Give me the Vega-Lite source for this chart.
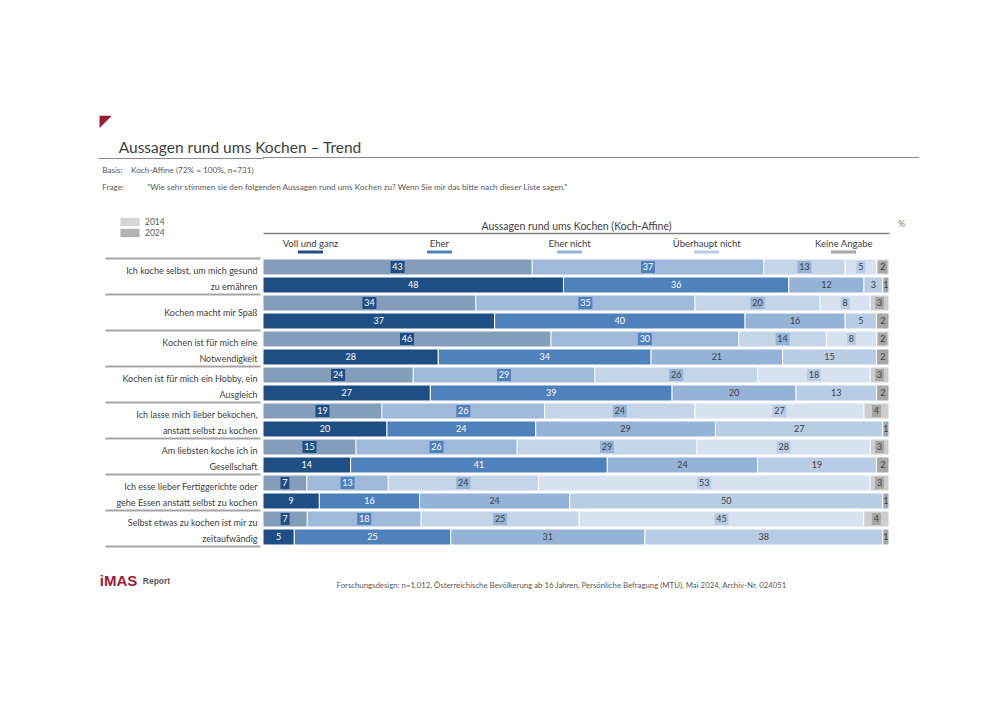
{
  "$schema": "https://vega.github.io/schema/vega-lite/v6.json",
  "padding": {"left": 97, "top": 112, "right": 5, "bottom": 5},
  "background": "white",
  "columns": 1,
  "spacing": 6,
  "config": {"view": {"stroke": null}, "font": "Lato"},
  "resolve": {"legend": {"opacity": "independent"}},
  "concat": [
    {
      "width": 656,
      "height": 1,
      "view": {"fill": "#8c8c8c", "stroke": null},
      "data": {"values": [{}]},
      "mark": {"type": "rule", "opacity": 0},
      "encoding": {
        "y": {
          "datum": 0.5,
          "type": "quantitative",
          "scale": {"domain": [0, 1]},
          "axis": {
            "values": [0.5],
            "domain": false,
            "grid": false,
            "labels": false,
            "ticks": true,
            "tickSize": 165,
            "tickWidth": 1.2,
            "tickColor": "#8c8c8c",
            "title": null
          }
        }
      },
      "title": {
        "text": "◤",
        "font": "DejaVu Sans",
        "color": "#9b1c31",
        "fontSize": 16,
        "anchor": "start",
        "frame": "bounds",
        "dx": 2,
        "subtitle": "\u200b\u00a0\u00a0\u00a0\u00a0\u00a0Aussagen rund ums Kochen – Trend",
        "subtitleFont": "Lato",
        "subtitleFontSize": 15.5,
        "subtitleColor": "#404040",
        "subtitlePadding": 12,
        "offset": 1
      }
    },
    {
      "width": 626,
      "height": 288,
      "title": {
        "text": [
          "Basis:\u00a0\u00a0\u00a0\u00a0Koch-Affine (72% = 100%, n=731)",
          "Frage:\u00a0\u00a0\u00a0\u00a0\u00a0\u00a0\u00a0\u00a0\u00a0\u00a0\u00a0\"Wie sehr stimmen sie den folgenden Aussagen rund ums Kochen zu? Wenn Sie mir das bitte nach dieser Liste sagen.\""
        ],
        "anchor": "start",
        "frame": "bounds",
        "font": "Lato",
        "fontSize": 8.2,
        "fontWeight": "normal",
        "color": "#595959",
        "lineHeight": 17,
        "offset": 24,
        "dx": 3
      },
      "data": {
        "values": [
          {"s": "Ich koche selbst, um mich gesund|zu ernähren", "yr": "2014", "c": "Voll und ganz", "k": 1, "v": 43},
          {"s": "Ich koche selbst, um mich gesund|zu ernähren", "yr": "2014", "c": "Eher", "k": 2, "v": 37},
          {"s": "Ich koche selbst, um mich gesund|zu ernähren", "yr": "2014", "c": "Eher nicht", "k": 3, "v": 13},
          {"s": "Ich koche selbst, um mich gesund|zu ernähren", "yr": "2014", "c": "Überhaupt nicht", "k": 4, "v": 5},
          {"s": "Ich koche selbst, um mich gesund|zu ernähren", "yr": "2014", "c": "Keine Angabe", "k": 5, "v": 2},
          {"s": "Ich koche selbst, um mich gesund|zu ernähren", "yr": "2024", "c": "Voll und ganz", "k": 1, "v": 48},
          {"s": "Ich koche selbst, um mich gesund|zu ernähren", "yr": "2024", "c": "Eher", "k": 2, "v": 36},
          {"s": "Ich koche selbst, um mich gesund|zu ernähren", "yr": "2024", "c": "Eher nicht", "k": 3, "v": 12},
          {"s": "Ich koche selbst, um mich gesund|zu ernähren", "yr": "2024", "c": "Überhaupt nicht", "k": 4, "v": 3},
          {"s": "Ich koche selbst, um mich gesund|zu ernähren", "yr": "2024", "c": "Keine Angabe", "k": 5, "v": 1},
          {"s": "Kochen macht mir Spaß", "yr": "2014", "c": "Voll und ganz", "k": 1, "v": 34},
          {"s": "Kochen macht mir Spaß", "yr": "2014", "c": "Eher", "k": 2, "v": 35},
          {"s": "Kochen macht mir Spaß", "yr": "2014", "c": "Eher nicht", "k": 3, "v": 20},
          {"s": "Kochen macht mir Spaß", "yr": "2014", "c": "Überhaupt nicht", "k": 4, "v": 8},
          {"s": "Kochen macht mir Spaß", "yr": "2014", "c": "Keine Angabe", "k": 5, "v": 3},
          {"s": "Kochen macht mir Spaß", "yr": "2024", "c": "Voll und ganz", "k": 1, "v": 37},
          {"s": "Kochen macht mir Spaß", "yr": "2024", "c": "Eher", "k": 2, "v": 40},
          {"s": "Kochen macht mir Spaß", "yr": "2024", "c": "Eher nicht", "k": 3, "v": 16},
          {"s": "Kochen macht mir Spaß", "yr": "2024", "c": "Überhaupt nicht", "k": 4, "v": 5},
          {"s": "Kochen macht mir Spaß", "yr": "2024", "c": "Keine Angabe", "k": 5, "v": 2},
          {"s": "Kochen ist für mich eine|Notwendigkeit", "yr": "2014", "c": "Voll und ganz", "k": 1, "v": 46},
          {"s": "Kochen ist für mich eine|Notwendigkeit", "yr": "2014", "c": "Eher", "k": 2, "v": 30},
          {"s": "Kochen ist für mich eine|Notwendigkeit", "yr": "2014", "c": "Eher nicht", "k": 3, "v": 14},
          {"s": "Kochen ist für mich eine|Notwendigkeit", "yr": "2014", "c": "Überhaupt nicht", "k": 4, "v": 8},
          {"s": "Kochen ist für mich eine|Notwendigkeit", "yr": "2014", "c": "Keine Angabe", "k": 5, "v": 2},
          {"s": "Kochen ist für mich eine|Notwendigkeit", "yr": "2024", "c": "Voll und ganz", "k": 1, "v": 28},
          {"s": "Kochen ist für mich eine|Notwendigkeit", "yr": "2024", "c": "Eher", "k": 2, "v": 34},
          {"s": "Kochen ist für mich eine|Notwendigkeit", "yr": "2024", "c": "Eher nicht", "k": 3, "v": 21},
          {"s": "Kochen ist für mich eine|Notwendigkeit", "yr": "2024", "c": "Überhaupt nicht", "k": 4, "v": 15},
          {"s": "Kochen ist für mich eine|Notwendigkeit", "yr": "2024", "c": "Keine Angabe", "k": 5, "v": 2},
          {"s": "Kochen ist für mich ein Hobby, ein|Ausgleich", "yr": "2014", "c": "Voll und ganz", "k": 1, "v": 24},
          {"s": "Kochen ist für mich ein Hobby, ein|Ausgleich", "yr": "2014", "c": "Eher", "k": 2, "v": 29},
          {"s": "Kochen ist für mich ein Hobby, ein|Ausgleich", "yr": "2014", "c": "Eher nicht", "k": 3, "v": 26},
          {"s": "Kochen ist für mich ein Hobby, ein|Ausgleich", "yr": "2014", "c": "Überhaupt nicht", "k": 4, "v": 18},
          {"s": "Kochen ist für mich ein Hobby, ein|Ausgleich", "yr": "2014", "c": "Keine Angabe", "k": 5, "v": 3},
          {"s": "Kochen ist für mich ein Hobby, ein|Ausgleich", "yr": "2024", "c": "Voll und ganz", "k": 1, "v": 27},
          {"s": "Kochen ist für mich ein Hobby, ein|Ausgleich", "yr": "2024", "c": "Eher", "k": 2, "v": 39},
          {"s": "Kochen ist für mich ein Hobby, ein|Ausgleich", "yr": "2024", "c": "Eher nicht", "k": 3, "v": 20},
          {"s": "Kochen ist für mich ein Hobby, ein|Ausgleich", "yr": "2024", "c": "Überhaupt nicht", "k": 4, "v": 13},
          {"s": "Kochen ist für mich ein Hobby, ein|Ausgleich", "yr": "2024", "c": "Keine Angabe", "k": 5, "v": 2},
          {"s": "Ich lasse mich lieber bekochen,|anstatt selbst zu kochen", "yr": "2014", "c": "Voll und ganz", "k": 1, "v": 19},
          {"s": "Ich lasse mich lieber bekochen,|anstatt selbst zu kochen", "yr": "2014", "c": "Eher", "k": 2, "v": 26},
          {"s": "Ich lasse mich lieber bekochen,|anstatt selbst zu kochen", "yr": "2014", "c": "Eher nicht", "k": 3, "v": 24},
          {"s": "Ich lasse mich lieber bekochen,|anstatt selbst zu kochen", "yr": "2014", "c": "Überhaupt nicht", "k": 4, "v": 27},
          {"s": "Ich lasse mich lieber bekochen,|anstatt selbst zu kochen", "yr": "2014", "c": "Keine Angabe", "k": 5, "v": 4},
          {"s": "Ich lasse mich lieber bekochen,|anstatt selbst zu kochen", "yr": "2024", "c": "Voll und ganz", "k": 1, "v": 20},
          {"s": "Ich lasse mich lieber bekochen,|anstatt selbst zu kochen", "yr": "2024", "c": "Eher", "k": 2, "v": 24},
          {"s": "Ich lasse mich lieber bekochen,|anstatt selbst zu kochen", "yr": "2024", "c": "Eher nicht", "k": 3, "v": 29},
          {"s": "Ich lasse mich lieber bekochen,|anstatt selbst zu kochen", "yr": "2024", "c": "Überhaupt nicht", "k": 4, "v": 27},
          {"s": "Ich lasse mich lieber bekochen,|anstatt selbst zu kochen", "yr": "2024", "c": "Keine Angabe", "k": 5, "v": 1},
          {"s": "Am liebsten koche ich in|Gesellschaft", "yr": "2014", "c": "Voll und ganz", "k": 1, "v": 15},
          {"s": "Am liebsten koche ich in|Gesellschaft", "yr": "2014", "c": "Eher", "k": 2, "v": 26},
          {"s": "Am liebsten koche ich in|Gesellschaft", "yr": "2014", "c": "Eher nicht", "k": 3, "v": 29},
          {"s": "Am liebsten koche ich in|Gesellschaft", "yr": "2014", "c": "Überhaupt nicht", "k": 4, "v": 28},
          {"s": "Am liebsten koche ich in|Gesellschaft", "yr": "2014", "c": "Keine Angabe", "k": 5, "v": 3},
          {"s": "Am liebsten koche ich in|Gesellschaft", "yr": "2024", "c": "Voll und ganz", "k": 1, "v": 14},
          {"s": "Am liebsten koche ich in|Gesellschaft", "yr": "2024", "c": "Eher", "k": 2, "v": 41},
          {"s": "Am liebsten koche ich in|Gesellschaft", "yr": "2024", "c": "Eher nicht", "k": 3, "v": 24},
          {"s": "Am liebsten koche ich in|Gesellschaft", "yr": "2024", "c": "Überhaupt nicht", "k": 4, "v": 19},
          {"s": "Am liebsten koche ich in|Gesellschaft", "yr": "2024", "c": "Keine Angabe", "k": 5, "v": 2},
          {"s": "Ich esse lieber Fertiggerichte oder|gehe Essen anstatt selbst zu kochen", "yr": "2014", "c": "Voll und ganz", "k": 1, "v": 7},
          {"s": "Ich esse lieber Fertiggerichte oder|gehe Essen anstatt selbst zu kochen", "yr": "2014", "c": "Eher", "k": 2, "v": 13},
          {"s": "Ich esse lieber Fertiggerichte oder|gehe Essen anstatt selbst zu kochen", "yr": "2014", "c": "Eher nicht", "k": 3, "v": 24},
          {"s": "Ich esse lieber Fertiggerichte oder|gehe Essen anstatt selbst zu kochen", "yr": "2014", "c": "Überhaupt nicht", "k": 4, "v": 53},
          {"s": "Ich esse lieber Fertiggerichte oder|gehe Essen anstatt selbst zu kochen", "yr": "2014", "c": "Keine Angabe", "k": 5, "v": 3},
          {"s": "Ich esse lieber Fertiggerichte oder|gehe Essen anstatt selbst zu kochen", "yr": "2024", "c": "Voll und ganz", "k": 1, "v": 9},
          {"s": "Ich esse lieber Fertiggerichte oder|gehe Essen anstatt selbst zu kochen", "yr": "2024", "c": "Eher", "k": 2, "v": 16},
          {"s": "Ich esse lieber Fertiggerichte oder|gehe Essen anstatt selbst zu kochen", "yr": "2024", "c": "Eher nicht", "k": 3, "v": 24},
          {"s": "Ich esse lieber Fertiggerichte oder|gehe Essen anstatt selbst zu kochen", "yr": "2024", "c": "Überhaupt nicht", "k": 4, "v": 50},
          {"s": "Ich esse lieber Fertiggerichte oder|gehe Essen anstatt selbst zu kochen", "yr": "2024", "c": "Keine Angabe", "k": 5, "v": 1},
          {"s": "Selbst etwas zu kochen ist mir zu|zeitaufwändig", "yr": "2014", "c": "Voll und ganz", "k": 1, "v": 7},
          {"s": "Selbst etwas zu kochen ist mir zu|zeitaufwändig", "yr": "2014", "c": "Eher", "k": 2, "v": 18},
          {"s": "Selbst etwas zu kochen ist mir zu|zeitaufwändig", "yr": "2014", "c": "Eher nicht", "k": 3, "v": 25},
          {"s": "Selbst etwas zu kochen ist mir zu|zeitaufwändig", "yr": "2014", "c": "Überhaupt nicht", "k": 4, "v": 45},
          {"s": "Selbst etwas zu kochen ist mir zu|zeitaufwändig", "yr": "2014", "c": "Keine Angabe", "k": 5, "v": 4},
          {"s": "Selbst etwas zu kochen ist mir zu|zeitaufwändig", "yr": "2024", "c": "Voll und ganz", "k": 1, "v": 5},
          {"s": "Selbst etwas zu kochen ist mir zu|zeitaufwändig", "yr": "2024", "c": "Eher", "k": 2, "v": 25},
          {"s": "Selbst etwas zu kochen ist mir zu|zeitaufwändig", "yr": "2024", "c": "Eher nicht", "k": 3, "v": 31},
          {"s": "Selbst etwas zu kochen ist mir zu|zeitaufwändig", "yr": "2024", "c": "Überhaupt nicht", "k": 4, "v": 38},
          {"s": "Selbst etwas zu kochen ist mir zu|zeitaufwändig", "yr": "2024", "c": "Keine Angabe", "k": 5, "v": 1}
        ]
      },
      "encoding": {
        "y": {
          "field": "s",
          "type": "nominal",
          "sort": null,
          "scale": {"paddingInner": 0, "paddingOuter": 0},
          "axis": {
            "orient": "left",
            "offset": 3,
            "domain": false,
            "grid": false,
            "ticks": true,
            "tickBand": "extent",
            "tickSize": 155,
            "tickWidth": 2,
            "tickColor": "#a6a6a6",
            "labelPadding": -152,
            "labelAlign": "right",
            "labelBaseline": "middle",
            "labelLineHeight": 16,
            "labelOffset": {"expr": "indexof(datum.label, '|') >= 0 ? -6 : 0"},
            "labelFontSize": 9,
            "labelColor": "#404040",
            "labelFont": "Lato",
            "labelLimit": 220,
            "labelExpr": "split(datum.label, '|')",
            "title": "%",
            "titleAngle": 0,
            "titleX": 641,
            "titleY": -35,
            "titleAlign": "center",
            "titleBaseline": "middle",
            "titleFontSize": 9,
            "titleFontWeight": "normal",
            "titleColor": "#7f7f7f",
            "titleFont": "Lato"
          }
        },
        "yOffset": {
          "field": "yr",
          "type": "nominal",
          "sort": ["2014", "2024"],
          "scale": {"paddingInner": 0.111, "paddingOuter": 0.056}
        }
      },
      "layer": [
        {
          "mark": {"type": "bar", "stroke": "white", "strokeWidth": 1},
          "encoding": {
            "x": {
              "field": "v",
              "type": "quantitative",
              "stack": "normalize",
              "axis": {
                "orient": "top",
                "offset": 25,
                "values": [0.075, 0.281, 0.489, 0.708, 0.927],
                "labelExpr": "datum.value < 0.2 ? 'Voll und ganz' : datum.value < 0.4 ? 'Eher' : datum.value < 0.6 ? 'Eher nicht' : datum.value < 0.8 ? 'Überhaupt nicht' : 'Keine Angabe'",
                "domain": true,
                "domainColor": "#7f7f7f",
                "domainWidth": 1.5,
                "ticks": true,
                "tickSize": -20,
                "tickWidth": 25,
                "tickCap": "butt",
                "tickDash": [0, 17, 3, 100],
                "tickColor": {"expr": "datum.value < 0.2 ? '#1f4e85' : datum.value < 0.4 ? '#4f81bd' : datum.value < 0.6 ? '#95b3d7' : datum.value < 0.8 ? '#b8cce4' : '#a6a6a6'"},
                "labelPadding": 10,
                "labelBaseline": "middle",
                "labelFontSize": 9.5,
                "labelColor": "#404040",
                "labelFont": "Lato",
                "labelFlush": false,
                "labelOverlap": false,
                "grid": false,
                "title": "Aussagen rund ums Kochen (Koch-Affine)",
                "titleY": -7,
                "titleBaseline": "middle",
                "titleFontSize": 10.5,
                "titleFontWeight": "normal",
                "titleColor": "#404040",
                "titleFont": "Lato"
              }
            },
            "color": {
              "field": "c",
              "type": "nominal",
              "scale": {
                "domain": ["Voll und ganz", "Eher", "Eher nicht", "Überhaupt nicht", "Keine Angabe"],
                "range": ["#1f4e85", "#4f81bd", "#95b3d7", "#b8cce4", "#a6a6a6"]
              },
              "legend": null
            },
            "order": {"field": "k", "type": "quantitative"},
            "opacity": {
              "field": "yr",
              "type": "nominal",
              "scale": {"domain": ["2014", "2024"], "range": [0.55, 1]},
              "legend": {
                "orient": "none",
                "legendX": -139,
                "legendY": -42,
                "title": null,
                "symbolType": "M-1.6,-0.7H1.6V0.7H-1.6Z",
                "symbolSize": 144,
                "symbolFillColor": "#b4b4b4",
                "symbolStrokeWidth": 0,
                "labelFontSize": 8.5,
                "labelColor": "#595959",
                "labelFont": "Lato",
                "labelOffset": 9,
                "rowPadding": 0
              }
            }
          }
        },
        {
          "transform": [{"filter": "datum.yr == '2014'"}],
          "mark": {"type": "point", "filled": true, "opacity": 1, "strokeWidth": 0},
          "encoding": {
            "x": {"field": "v", "type": "quantitative", "stack": "normalize", "bandPosition": 0.5, "axis": null},
            "color": {"field": "c", "type": "nominal", "legend": null},
            "order": {"field": "k", "type": "quantitative"},
            "shape": {
              "condition": {"test": "datum.v >= 10", "value": "M-1,-0.86H1V0.86H-1Z"},
              "value": "M-0.64,-0.86H0.64V0.86H-0.64Z"
            },
            "size": {"value": 196}
          }
        },
        {
          "mark": {"type": "text", "fontSize": 9, "font": "Lato", "baseline": "middle", "align": "center"},
          "encoding": {
            "x": {
              "field": "v",
              "type": "quantitative",
              "stack": "normalize",
              "bandPosition": 0.5,
              "axis": {
                "orient": "bottom",
                "domain": false,
                "ticks": false,
                "grid": false,
                "values": [0, 1],
                "labelExpr": "datum.value == 0 ? 'iMAS' : 'Report'",
                "labelOffset": {"expr": "datum.value == 0 ? -145 : -733"},
                "labelColor": {"expr": "datum.value == 0 ? '#9b1c31' : '#595959'"},
                "labelFontSize": {"expr": "datum.value == 0 ? 15 : 8.5"},
                "labelFontWeight": "bold",
                "labelFont": "Liberation Sans",
                "labelPadding": 34,
                "labelBaseline": "middle",
                "labelAlign": "center",
                "labelFlush": false,
                "labelOverlap": false,
                "labelBound": false,
                "title": "Forschungsdesign: n=1.012, Österreichische  Bevölkerung ab 16 Jahren, Persönliche Befragung (MTU), Mai 2024, Archiv-Nr. 024051",
                "titleX": 298,
                "titleY": 39,
                "titleBaseline": "middle",
                "titleFontSize": 7.8,
                "titleFontWeight": "normal",
                "titleColor": "#595959",
                "titleFont": "Lato"
              }
            },
            "detail": {"field": "c"},
            "order": {"field": "k", "type": "quantitative"},
            "text": {"field": "v", "type": "quantitative"},
            "color": {"condition": {"test": "datum.k <= 2", "value": "white"}, "value": "#404040"}
          }
        }
      ],
      "resolve": {"axis": {"x": "independent"}}
    }
  ]
}
